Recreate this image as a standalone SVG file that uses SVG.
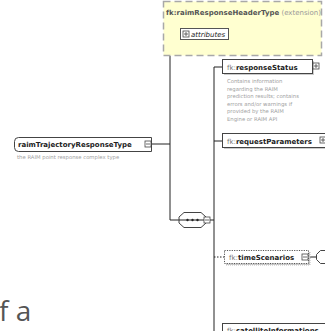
<svg xmlns="http://www.w3.org/2000/svg" width="325" height="331" viewBox="0 0 325 331">
<style>
.t{font-family:"DejaVu Sans",Verdana,sans-serif;font-size:7px;fill:#222}
.b{font-weight:bold}
.ns{fill:#777;font-weight:normal}
.d{font-family:"DejaVu Sans",Verdana,sans-serif;font-size:5.3px;fill:#a0a0a0}
.ln{stroke:#222;stroke-width:1;fill:none}
.box{fill:#fff;stroke:#444;stroke-width:1}
.ic{fill:#fff;stroke:#444;stroke-width:0.8}
.icl{stroke:#444;stroke-width:0.8}
</style>
<defs>
<g id="plus"><rect class="ic" x="0" y="0" width="6" height="6"/><path class="icl" d="M1 3H5M3 1V5"/></g>
<g id="minus"><rect class="ic" x="0" y="0" width="6" height="6"/><path class="icl" d="M1 3H5"/></g>
</defs>
<rect width="325" height="331" fill="#fff"/>
<g id="connectors">
<path class="ln" d="M170 56V220M151 144H170M170 220H179M210 220H214M214 67V331M214 67H223M214 141H223"/>
<path class="ln" d="M214 257H225" stroke-dasharray="1.5,1.5"/>
<path class="ln" d="M309 257H316"/>
</g>
<g id="header">
<rect x="163.5" y="1.5" width="158" height="54" fill="#ffffd0" stroke="#a8a8a8" stroke-width="1.5" stroke-dasharray="7,4"/>
<text x="166" y="15" class="t" font-size="6.6"><tspan class="b" fill="#555">fk:raimResponseHeaderType</tspan><tspan fill="#999"> (extension)</tspan></text>
<g id="attributes">
<rect x="180.5" y="28.5" width="48" height="11" fill="#fff" stroke="#555" stroke-width="1"/>
<use href="#plus" x="183" y="31"/>
<text x="191" y="37" class="t" font-style="italic" font-size="6.5">attributes</text>
</g>
</g>
<g id="raimTrajectoryResponseType">
<path d="M18.5 137.5H151.5V151.5H18.5Q14.5 151.5 14.5 147.5V141.5Q14.5 137.5 18.5 137.5Z" class="box"/>
<text x="18" y="147" class="t b" font-size="7.5">raimTrajectoryResponseType</text>
<use href="#minus" x="145" y="141"/>
<text x="17" y="159" class="d">the RAIM point response complex type</text>
</g>
<g id="responseStatus">
<rect x="224" y="61" width="90" height="14" fill="#ccc"/>
<rect x="222.5" y="59.5" width="90" height="14" class="box"/>
<text x="227" y="69.5" class="t"><tspan class="ns">fk:</tspan><tspan class="b">responseStatus</tspan></text>
<use href="#plus" x="313" y="63"/>
<text class="d"><tspan x="227" y="83">Contains information</tspan><tspan x="227" y="90.5">regarding the RAIM</tspan><tspan x="227" y="98">prediction results; contains</tspan><tspan x="227" y="105.5">errors and/or warnings if</tspan><tspan x="227" y="113">provided by the RAIM</tspan><tspan x="227" y="120.5">Engine or RAIM API</tspan></text>
</g>
<g id="requestParameters">
<rect x="224" y="135" width="110" height="14" fill="#ccc"/>
<rect x="222.5" y="133.5" width="110" height="14" class="box"/>
<text x="227" y="143.5" class="t"><tspan class="ns">fk:</tspan><tspan class="b">requestParameters</tspan></text>
<use href="#plus" x="320" y="137"/>
</g>
<g id="sequence">
<path d="M184 212.5H201L206 217V223L201 227.5H184L179 223V217Z" fill="#fff" stroke="#444"/>
<path class="ln" d="M179 220H206"/>
<circle cx="187.5" cy="220" r="1.2" fill="#222"/><circle cx="192.5" cy="220" r="1.2" fill="#222"/><circle cx="197.5" cy="220" r="1.2" fill="#222"/>
<use href="#minus" x="204" y="217"/>
</g>
<g id="timeScenarios">
<rect x="226" y="252" width="84" height="13" fill="#ccc" stroke="#bbb" stroke-dasharray="1,1"/>
<rect x="224.5" y="250.5" width="84" height="13" fill="#fff" stroke="#555" stroke-dasharray="1.2,1.2"/>
<text x="229" y="260" class="t"><tspan class="ns">fk:</tspan><tspan class="b">timeScenarios</tspan></text>
<use href="#minus" x="302" y="254"/>
<path d="M320.5 250.5H330V263.5H320.5L316.5 259.5V254.5Z" class="box"/>
</g>
<g id="satelliteInformations">
<rect x="222.5" y="323.5" width="110" height="14" class="box"/>
<text x="227" y="333" class="t"><tspan class="ns">fk:</tspan><tspan class="b">satelliteInformations</tspan></text>
</g>
<text x="-1" y="321" font-family="'Open Sans','DejaVu Sans',sans-serif" font-size="28" fill="#555">f a</text>
</svg>
